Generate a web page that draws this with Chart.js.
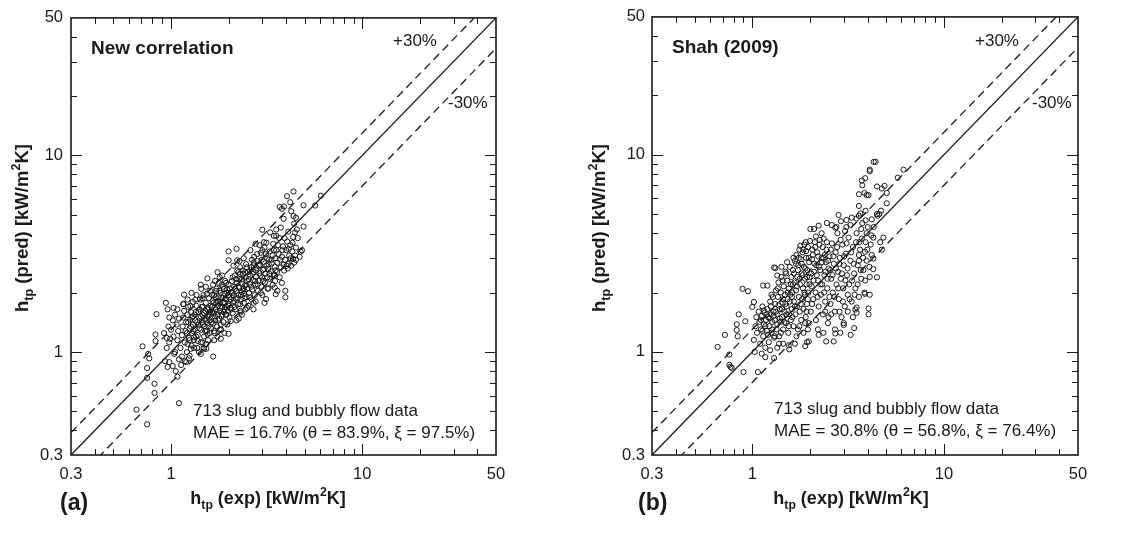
<!DOCTYPE html>
<html><head><meta charset="utf-8">
<script src="https://cdn.jsdelivr.net/npm/chart.js@4.4.1/dist/chart.umd.min.js"></script>
<style>
html,body{margin:0;padding:0;background:#fff;}
#wrap{position:relative;width:1137px;height:549px;overflow:hidden;background:#fff;}
canvas{position:absolute;top:0;}
</style></head><body>
<div id="wrap"><canvas id="ca" width="570" height="549" style="left:0"></canvas><canvas id="cb" width="567" height="549" style="left:570px"></canvas></div>
<script>
// ---- axis / tick definitions ----
const axisRange = [0.3, 50];
const tickValues = [0.3, 1, 10, 50];
const tickLabels = ["0.3", "1", "10", "50"];
const majorTickValues = [1, 10];
const minorTickValues = [0.4,0.5,0.6,0.7,0.8,0.9,2,3,4,5,6,7,8,9,20,30,40];
const refLineFactors = [1, 1.3, 0.7];

// ---- panel (a): New correlation  [h_tp(exp), h_tp(pred)] ----
const newCorrelationPoints = [
[0.66,0.51],[0.75,0.43],[1.10,0.55],[0.82,0.62],[0.82,0.69],[0.75,0.74],[0.75,0.83],[0.71,1.07],[0.77,0.93],[0.76,0.98],
[0.83,1.23],[0.83,1.14],[0.84,1.56],[0.94,1.78],[0.96,1.65],[1.03,1.68],[1.28,2.0],[1.17,1.96],[1.16,1.76],[0.99,1.17],
[0.96,0.84],[0.98,0.89],[1.04,0.98],[1.08,0.75],[1.13,0.86],[1.2,0.89],[1.25,0.96],[1.27,1.04],[1.43,0.98],[1.49,1.04],
[1.53,1.04],[1.66,0.95],[1.82,1.17],[2.0,1.24],[2.26,1.48],[3.14,1.86],[3.53,1.97],[3.96,1.9],[3.96,2.05],[3.48,2.13],
[4.07,2.66],[4.34,2.98],[4.45,3.1],[4.5,2.95],[4.4,2.85],[4.84,3.29],[4.75,3.25],[4.93,4.35],[5.67,5.56],[6.07,6.24],
[4.93,5.58],[4.37,6.56],[4.04,6.2],[4.2,5.78],[3.7,5.47],[3.8,5.35],[3.9,5.5],[4.37,4.92],[4.5,4.82],[4.45,4.06],
[3.88,4.76],[3.55,4.2],[3.0,4.19],[3.3,4.06],[3.45,3.9],[2.77,3.55],[3.06,3.62],[2.0,3.25],[2.2,3.35],[2.0,2.93],
[2.22,2.93],[1.55,2.37],[1.43,2.2],[1.75,2.55],[2.7,2.76],[3.48,2.47],[3.88,2.78],[3.23,2.11],[2.77,1.81],[3.08,1.78],
[2.7,1.78],[2.5,1.68],[2.31,1.59],[2.05,1.44],[1.82,1.38],[1.68,1.28],[1.55,1.23],[1.38,1.14],[1.32,1.19],[1.22,1.1],
[0.92,1.25],[0.95,1.05],[0.97,1.35],[0.98,1.12],[1.0,1.3],[1.02,1.45],[1.03,1.2],[1.05,1.0],[1.05,1.55],[1.07,1.38],
[1.08,1.15],[1.09,1.28],[1.1,1.48],[1.1,0.92],[1.02,0.85],[0.93,0.9],[1.06,0.8],[1.08,1.65],[0.98,1.5],[0.95,1.18],
[1.12,1.05],[1.14,1.22],[1.15,1.35],[1.16,1.5],[1.17,1.62],[1.18,1.12],[1.19,1.28],[1.2,1.42],[1.21,1.0],[1.22,1.55],
[1.23,1.7],[1.24,1.18],[1.25,1.32],[1.26,1.46],[1.27,1.6],[1.28,1.08],[1.29,1.25],[1.3,1.38],[1.3,1.52],[1.3,1.8],
[1.14,0.95],[1.18,0.9],[1.24,0.93],[1.22,1.85],[1.16,1.75],
[1.32,1.15],[1.33,1.3],[1.34,1.45],[1.35,1.6],[1.36,1.72],[1.37,1.05],[1.38,1.22],[1.39,1.38],[1.4,1.5],[1.41,1.65],
[1.42,1.85],[1.43,1.12],[1.44,1.3],[1.45,1.42],[1.46,1.55],[1.47,1.7],[1.48,1.95],[1.49,1.2],[1.5,1.35],[1.5,1.48],
[1.51,1.62],[1.52,1.78],[1.53,1.1],[1.54,1.28],[1.55,1.4],[1.56,1.52],[1.57,1.68],[1.58,1.88],[1.59,1.25],[1.6,1.45],
[1.6,1.6],[1.6,2.05],[1.36,1.95],[1.44,2.1],[1.52,2.15],[1.4,1.0],[1.48,1.05],[1.56,1.15],
[1.62,1.32],[1.63,1.5],[1.64,1.7],[1.65,1.82],[1.66,1.4],[1.67,1.58],[1.68,1.95],[1.69,1.25],[1.7,1.45],[1.71,1.65],
[1.72,1.78],[1.73,2.1],[1.74,1.35],[1.75,1.55],[1.76,1.72],[1.77,1.9],[1.78,2.25],[1.79,1.48],[1.8,1.62],[1.81,1.8],
[1.82,2.0],[1.83,1.3],[1.84,1.52],[1.85,1.7],[1.86,1.88],[1.87,2.15],[1.88,1.42],[1.89,1.6],[1.9,1.78],[1.91,1.98],
[1.92,2.3],[1.93,1.55],[1.94,1.7],[1.95,1.85],[1.96,2.08],[1.97,1.38],[1.98,1.62],[1.99,1.95],[2.0,2.2],[2.0,1.75],
[1.7,2.3],[1.8,2.4],[1.66,2.2],[1.75,1.2],[1.9,1.25],[1.85,2.45],
[2.02,1.5],[2.04,1.68],[2.05,1.85],[2.06,2.02],[2.08,2.3],[2.1,1.58],[2.11,1.78],[2.12,1.95],[2.14,2.15],[2.15,2.45],
[2.17,1.65],[2.18,1.88],[2.2,2.05],[2.21,2.25],[2.22,2.6],[2.24,1.75],[2.25,1.95],[2.27,2.12],[2.28,2.35],[2.3,2.7],
[2.31,1.62],[2.33,1.85],[2.34,2.02],[2.36,2.22],[2.38,2.5],[2.4,1.78],[2.41,1.98],[2.43,2.18],[2.45,2.4],[2.47,2.8],
[2.48,1.9],[2.5,2.1],[2.5,2.3],[2.2,1.45],[2.35,1.55],[2.45,1.65],[2.12,2.75],[2.28,2.9],[2.4,3.0],
[2.52,2.55],[2.54,1.72],[2.56,2.0],[2.58,2.22],[2.6,2.45],[2.62,2.7],[2.64,1.85],[2.66,2.08],[2.68,2.32],[2.7,2.55],
[2.72,3.05],[2.74,1.95],[2.76,2.2],[2.78,2.42],[2.8,2.68],[2.83,2.9],[2.85,2.05],[2.87,2.3],[2.9,2.52],[2.92,2.78],
[2.95,3.2],[2.97,2.15],[3.0,2.4],[3.02,2.62],[3.05,2.88],[3.08,3.4],[3.1,2.25],[3.12,2.5],[3.15,2.75],[3.18,3.0],
[3.2,2.1],[2.6,3.3],[2.9,3.5],[2.7,1.65],[3.0,1.95],[3.15,3.6],
[3.22,2.65],[3.25,2.95],[3.28,3.25],[3.3,2.35],[3.33,2.58],[3.36,2.82],[3.4,3.1],[3.42,3.55],[3.45,2.45],[3.48,2.72],
[3.5,3.0],[3.55,3.3],[3.58,2.55],[3.6,2.85],[3.65,3.15],[3.68,3.8],[3.7,2.4],[3.75,2.7],[3.8,3.05],[3.85,3.45],
[3.9,2.6],[3.95,2.95],[4.0,3.3],[3.4,2.2],[3.6,2.05],[3.55,3.9],[3.75,4.3],
[4.05,3.65],[4.1,2.8],[4.15,3.1],[4.2,3.5],[4.25,2.75],[4.3,3.25],[4.35,3.85],[4.4,4.5],[4.5,3.4],[4.6,3.8],
[4.7,3.05],[4.1,4.1],[4.25,5.2],[4.55,4.2],
[1.21,1.25],[1.23,1.42],[1.25,1.15],[1.27,1.35],[1.29,1.5],[1.31,1.28],[1.33,1.55],[1.35,1.2],[1.37,1.42],[1.39,1.6],
[1.41,1.32],[1.43,1.52],[1.45,1.7],[1.47,1.38],[1.49,1.58],[1.51,1.28],[1.53,1.45],[1.55,1.65],[1.57,1.35],[1.59,1.55],
[1.26,1.72],[1.34,1.85],[1.46,1.88],[1.54,1.98],[1.32,1.05],[1.46,1.12],
[1.61,1.72],[1.63,1.42],[1.65,1.6],[1.67,1.78],[1.69,1.52],[1.71,1.9],[1.73,1.6],[1.75,1.82],[1.77,1.45],[1.79,2.05],
[1.81,1.68],[1.83,1.9],[1.85,1.55],[1.87,1.78],[1.89,2.1],[1.91,1.65],[1.93,1.88],[1.95,1.55],[1.97,2.0],[1.99,1.72],
[1.64,1.95],[1.72,2.05],[1.84,2.2],[1.94,2.25],[1.68,1.15],[1.8,1.3],
[2.01,1.9],[2.03,2.1],[2.07,1.65],[2.09,2.0],[2.13,1.82],[2.16,2.1],[2.19,2.35],[2.23,1.88],[2.26,2.15],[2.29,2.5],
[2.32,1.95],[2.35,2.35],[2.37,2.6],[2.39,2.1],[2.42,1.88],[2.44,2.55],[2.46,2.2],[2.49,2.7],[2.1,2.4],[2.25,2.55],
[2.15,1.7],[2.3,1.75],[2.42,2.05],
[2.55,2.35],[2.59,2.6],[2.63,2.15],[2.67,2.5],[2.71,2.85],[2.75,2.3],[2.79,2.6],[2.84,2.2],[2.88,2.75],[2.93,2.45],
[2.98,2.95],[3.03,2.3],[3.07,2.65],[3.13,3.15],[3.19,2.4],[3.24,2.8],[2.65,2.95],[2.82,3.15],[3.0,3.3],[2.58,1.9],
[2.95,2.0],[3.27,2.5],
[3.35,2.95],[3.45,3.3],[3.52,2.6],[3.62,3.5],[3.72,2.95],[3.82,3.3],[3.92,3.8],[4.02,2.75],[4.12,3.35],[4.22,3.0],
[4.32,3.6],[3.5,2.3],[3.8,2.25]
];

// ---- panel (b): Shah (2009)  [h_tp(exp), h_tp(pred)] ----
const shahPoints = [
[0.66,1.06],[0.72,1.22],[0.76,0.97],[0.76,0.86],[0.78,0.83],[0.77,0.84],[0.83,1.38],[0.83,1.29],[0.84,1.2],[0.9,0.79],
[0.89,2.09],[0.95,2.03],[0.85,1.55],[0.92,1.43],[1.02,1.79],[1.0,1.69],[1.07,0.79],[1.17,0.94],[1.3,0.93],[1.14,2.17],
[1.2,2.17],[1.32,2.66],[1.35,2.44],[1.56,1.03],[1.67,1.1],[1.89,1.07],[1.93,1.12],[1.97,1.13],[1.89,1.4],[2.22,1.22],
[2.43,1.13],[2.66,1.13],[2.71,1.24],[2.88,1.25],[3.0,1.37],[3.26,1.22],[3.4,1.32],[3.5,1.58],[3.45,1.64],[3.5,1.68],
[4.04,1.66],[4.04,1.55],[3.87,1.97],[4.28,2.63],[4.47,2.39],[4.2,3.1],[4.28,2.98],[4.74,3.3],[4.83,3.8],[4.65,3.6],
[4.5,4.9],[4.6,5.0],[4.7,5.2],[4.47,5.0],[5.03,5.67],[4.74,6.74],[4.47,6.9],[4.9,6.95],[3.95,6.24],[4.04,6.24],
[3.85,6.4],[3.73,7.4],[3.88,7.6],[3.75,7.0],[4.1,8.25],[4.1,8.4],[4.4,9.2],[4.3,9.2],[5.74,7.65],[6.15,8.4],
[5.03,6.4],[3.6,6.3],[2.82,4.95],[3.66,5.04],[3.5,4.75],[3.6,4.9],[3.1,4.67],[2.71,4.27],[2.22,4.37],[2.01,4.2],
[1.3,2.68],[3.9,4.65],[3.73,3.76],[3.87,3.22],[3.6,3.1],[3.6,2.9],[4.28,3.8],
[1.02,1.15],[1.04,1.35],[1.05,1.5],[1.06,1.25],[1.08,1.6],[1.09,1.42],[1.1,1.1],[1.11,1.3],[1.12,1.52],[1.13,1.7],
[1.14,1.2],[1.15,1.38],[1.16,1.58],[1.17,1.05],[1.18,1.45],[1.19,1.28],[1.2,1.65],[1.21,1.5],[1.22,1.12],[1.23,1.35],
[1.24,1.8],[1.25,1.55],[1.26,1.25],[1.27,1.42],[1.28,1.9],[1.29,1.6],[1.3,1.18],[1.03,1.0],[1.12,0.98],[1.24,1.02],
[1.31,1.45],[1.32,1.75],[1.33,2.05],[1.34,1.3],[1.35,1.55],[1.36,1.9],[1.37,2.25],[1.38,1.2],[1.39,1.65],[1.4,1.42],
[1.41,2.0],[1.42,2.4],[1.43,1.5],[1.44,1.78],[1.45,1.3],[1.46,2.15],[1.47,1.6],[1.48,1.95],[1.49,2.55],[1.5,1.4],
[1.51,1.7],[1.52,2.3],[1.53,1.85],[1.54,1.25],[1.55,2.1],[1.56,1.55],[1.57,2.7],[1.58,1.95],[1.59,1.45],[1.6,2.4],
[1.35,1.05],[1.45,1.1],[1.55,1.08],[1.42,2.7],[1.52,2.85],
[1.61,1.65],[1.62,2.0],[1.63,2.6],[1.64,1.35],[1.65,1.8],[1.66,2.25],[1.67,2.9],[1.68,1.55],[1.69,2.05],[1.7,3.1],
[1.71,1.7],[1.72,2.4],[1.73,1.3],[1.74,2.75],[1.75,1.9],[1.76,3.3],[1.77,1.6],[1.78,2.2],[1.79,2.95],[1.8,1.45],
[1.81,2.5],[1.82,1.85],[1.83,3.2],[1.84,2.1],[1.85,1.65],[1.86,2.7],[1.87,3.5],[1.88,1.95],[1.89,2.35],[1.9,1.5],
[1.91,3.0],[1.92,2.2],[1.93,1.75],[1.94,2.6],[1.95,3.4],[1.96,2.0],[1.97,1.4],[1.98,2.85],[1.99,2.4],[2.0,3.65],
[1.7,1.2],[1.85,1.25],[1.95,1.3],
[2.02,1.6],[2.04,2.15],[2.05,2.95],[2.06,3.3],[2.08,1.85],[2.1,2.55],[2.12,3.6],[2.14,2.0],[2.15,1.45],[2.16,2.75],
[2.18,3.2],[2.2,2.3],[2.22,1.7],[2.24,3.5],[2.26,2.6],[2.28,1.95],[2.3,3.0],[2.32,2.2],[2.34,1.55],[2.36,3.75],
[2.38,2.45],[2.4,1.8],[2.42,2.85],[2.44,3.3],[2.46,2.1],[2.48,1.4],[2.5,2.65],[2.1,4.2],[2.3,4.0],[2.45,4.5],
[2.2,1.3],[2.35,1.25],[2.5,1.5],
[2.53,3.05],[2.56,1.75],[2.58,2.35],[2.6,3.55],[2.63,2.0],[2.66,2.8],[2.7,1.6],[2.72,3.2],[2.75,2.2],[2.78,4.0],
[2.8,2.55],[2.83,1.85],[2.86,3.0],[2.9,2.35],[2.92,1.5],[2.95,3.5],[2.98,2.1],[3.0,2.75],[3.04,1.7],[3.08,3.15],
[3.12,2.45],[3.15,1.95],[3.18,3.8],[3.2,2.2],[2.6,4.4],[2.9,4.6],[3.1,4.3],[2.7,1.3],[3.0,1.4],
[3.25,2.9],[3.3,1.8],[3.35,3.4],[3.4,2.5],[3.45,2.1],[3.5,4.0],[3.55,2.75],[3.6,1.9],[3.65,3.3],[3.7,2.35],
[3.75,4.5],[3.8,2.6],[3.85,2.0],[3.9,3.6],[3.95,2.9],[4.0,4.3],[4.1,2.4],[4.15,3.5],[3.3,4.8],[3.6,5.5],
[3.9,5.2],[4.2,4.7],
[1.11,1.45],[1.13,1.28],[1.15,1.62],[1.17,1.35],[1.19,1.55],[1.21,1.22],[1.23,1.48],[1.25,1.7],[1.27,1.3],[1.29,1.52],
[1.31,1.2],[1.33,1.6],[1.35,1.38],[1.37,1.72],[1.39,1.48],[1.41,1.25],[1.43,1.65],[1.45,1.85],[1.47,1.42],[1.49,1.75],
[1.51,1.55],[1.53,2.0],[1.55,1.35],[1.57,1.8],[1.59,2.2],[1.36,2.1],[1.44,2.3],[1.5,2.5],[1.38,1.1],[1.26,1.95],
[1.61,1.9],[1.63,2.2],[1.65,2.5],[1.67,1.7],[1.69,2.8],[1.71,2.15],[1.73,2.6],[1.75,3.0],[1.77,2.35],[1.79,1.75],
[1.81,2.8],[1.83,2.45],[1.85,3.3],[1.87,2.0],[1.89,2.65],[1.91,3.25],[1.93,2.4],[1.95,1.85],[1.97,3.0],[1.99,2.2],
[1.64,3.0],[1.78,3.45],[1.9,3.6],[1.62,1.5],[1.76,1.35],[1.92,1.6],
[2.03,2.5],[2.07,3.1],[2.09,2.3],[2.11,2.8],[2.13,3.4],[2.17,2.45],[2.19,1.9],[2.21,3.05],[2.23,2.7],[2.25,3.7],
[2.27,2.2],[2.31,2.85],[2.33,3.4],[2.37,2.0],[2.39,3.1],[2.41,2.55],[2.45,3.6],[2.47,2.35],[2.49,2.9],[2.53,1.9],
[2.55,2.6],[2.57,3.3],[2.15,3.85],[2.35,3.0],[2.05,1.75],[2.4,1.6],[2.58,1.55],
[2.62,2.45],[2.65,3.05],[2.68,1.9],[2.73,2.65],[2.77,3.4],[2.81,2.1],[2.85,2.8],[2.89,3.7],[2.93,2.5],[2.97,1.8],
[3.02,3.05],[3.06,2.3],[3.1,3.55],[3.14,2.65],[3.22,1.85],[3.28,3.2],[3.32,2.3],[3.38,2.8],[3.42,1.95],[3.48,3.6],
[2.75,4.3],[3.05,4.1],[3.25,4.4],[2.85,1.6],[3.15,1.6],[3.35,1.5],
[3.55,2.2],[3.62,3.6],[3.68,2.6],[3.78,3.0],[3.88,2.3],[3.98,3.3],[4.08,2.7],[4.18,3.9],[3.7,4.2],[3.95,4.0],
[4.1,1.95],[4.3,4.3]
];

// ---- panel text ----
const panelTitles = ["New correlation", "Shah (2009)"];
const panelLetters = ["(a)", "(b)"];
const dataCountText = "713 slug and bubbly flow data";
const maeTexts = ["MAE = 16.7% (\u03B8 = 83.9%, \u03BE = 97.5%)", "MAE = 30.8% (\u03B8 = 56.8%, \u03BE = 76.4%)"];
const bandLabels = ["+30%", "-30%"];

const INK = '#1a1a1a';
const FONT = '"Liberation Sans", Arial, Helvetica, sans-serif';

function drawRich(ctx, segs, x, y, size, bold, align, rot) {
  const w = bold ? 'bold ' : '';
  const parts = segs.map(s => {
    const sz = s[1] === 0 ? size : size * 0.68;
    ctx.font = w + sz + 'px ' + FONT;
    return {t: s[0], sz, dy: s[1] < 0 ? size * 0.28 : (s[1] > 0 ? -size * 0.42 : 0), wd: ctx.measureText(s[0]).width};
  });
  const total = parts.reduce((a, p) => a + p.wd, 0);
  ctx.save();
  ctx.translate(x, y);
  if (rot) ctx.rotate(rot);
  let cx = align === 'center' ? -total / 2 : (align === 'right' ? -total : 0);
  ctx.fillStyle = INK;
  ctx.textBaseline = 'alphabetic';
  ctx.textAlign = 'left';
  parts.forEach(p => {
    ctx.font = w + p.sz + 'px ' + FONT;
    ctx.fillText(p.t, cx, p.dy);
    cx += p.wd;
  });
  ctx.restore();
}

const framePlugin = {
  id: 'frameTicks',
  afterDatasetsDraw(chart) {
    const {ctx, chartArea: a, scales: {x, y}} = chart;
    ctx.save();
    ctx.strokeStyle = INK;
    ctx.lineWidth = 1;
    const tick = (vals, len) => {
      vals.forEach(v => {
        const px = Math.round(x.getPixelForValue(v)) + 0.5;
        const py = Math.round(y.getPixelForValue(v)) + 0.5;
        ctx.beginPath();
        ctx.moveTo(px, a.bottom); ctx.lineTo(px, a.bottom - len);
        ctx.moveTo(px, a.top); ctx.lineTo(px, a.top + len);
        ctx.moveTo(a.left, py); ctx.lineTo(a.left + len, py);
        ctx.moveTo(a.right, py); ctx.lineTo(a.right - len, py);
        ctx.stroke();
      });
    };
    tick(minorTickValues, 6);
    tick(majorTickValues, 11);
    ctx.lineWidth = 1.6;
    ctx.strokeRect(a.left, a.top, a.right - a.left, a.bottom - a.top);
    ctx.restore();
  },
  afterDraw(chart) {
    const o = chart.options.plugins.frameTicks;
    const ctx = chart.ctx;
    o.notes.forEach(n => drawRich(ctx, n.segs, n.x, n.y, n.size, n.bold, n.align, n.rot));
  }
};

function makePanel(id, pts, idx, L) {
  const lineSets = refLineFactors.map((f, i) => ({
    type: 'line',
    data: axisRange.map(v => ({x: v, y: v * f})),
    borderColor: INK,
    borderWidth: 1.3,
    borderDash: i === 0 ? [] : [8, 5],
    pointRadius: 0,
    fill: false,
    tension: 0
  }));
  const xt = [['h',0],['tp',-1],[' (exp) [kW/m',0],['2',1],['K]',0]];
  const yt = [['h',0],['tp',-1],[' (pred) [kW/m',0],['2',1],['K]',0]];
  new Chart(document.getElementById(id), {
    type: 'scatter',
    data: {
      datasets: [{
        type: 'scatter',
        data: pts.map(p => ({x: p[0], y: p[1]})),
        pointRadius: 2.6,
        pointBorderWidth: 1,
        pointBorderColor: INK,
        pointBackgroundColor: 'rgba(255,255,255,0)',
        showLine: false
      }, ...lineSets]
    },
    options: {
      responsive: false,
      animation: false,
      devicePixelRatio: 1,
      layout: {padding: {left: 0, top: 12, right: L.padRight, bottom: 0}},
      plugins: {
        legend: {display: false},
        tooltip: {enabled: false},
        frameTicks: {notes: [
          {segs: [[panelTitles[idx],0]], x: L.titleX, y: L.titleY, size: 19, bold: true, align: 'left'},
          {segs: [[bandLabels[0],0]], x: L.plusX, y: 46, size: 17, bold: false, align: 'left'},
          {segs: [[bandLabels[1],0]], x: L.minusX, y: 108, size: 17, bold: false, align: 'left'},
          {segs: [[dataCountText,0]], x: L.noteX, y: L.noteY, size: 17, bold: false, align: 'left'},
          {segs: [[maeTexts[idx],0]], x: L.noteX, y: L.noteY + 22, size: 17, bold: false, align: 'left'},
          {segs: [[panelLetters[idx],0]], x: L.letterX, y: 510, size: 23, bold: true, align: 'left'},
          {segs: xt, x: L.xTitleX, y: 504, size: 18, bold: true, align: 'center'},
          {segs: yt, x: L.yTitleX, y: 228, size: 18.5, bold: true, align: 'center', rot: -Math.PI / 2}
        ]}
      },
      scales: {
        x: {
          type: 'logarithmic', min: axisRange[0], max: axisRange[1], position: 'bottom',
          grid: {display: false, drawTicks: false}, border: {display: false},
          ticks: {color: INK, font: {family: FONT, size: 16.5}, padding: 10, autoSkip: false, maxRotation: 0,
                  callback: v => tickLabels[tickValues.indexOf(v)]},
          afterBuildTicks: s => { s.ticks = tickValues.map(v => ({value: v})); },
          afterFit: s => { s.height = 94; }
        },
        y: {
          type: 'logarithmic', min: axisRange[0], max: axisRange[1], position: 'left',
          grid: {display: false, drawTicks: false}, border: {display: false},
          ticks: {color: INK, font: {family: FONT, size: 16.5}, padding: L.yPad, autoSkip: false,
                  callback: v => tickLabels[tickValues.indexOf(v)]},
          afterBuildTicks: s => { s.ticks = tickValues.map(v => ({value: v})); },
          afterFit: s => { s.width = L.axisW; }
        }
      }
    },
    plugins: [framePlugin]
  });
}

makePanel('ca', newCorrelationPoints, 0, {
  axisW: 71, padRight: 74, yPad: 8, titleX: 91, titleY: 54, plusX: 393, minusX: 448,
  noteX: 193, noteY: 416, letterX: 60, xTitleX: 268, yTitleX: 28
});
makePanel('cb', shahPoints, 1, {
  axisW: 82, padRight: 59, yPad: 7, titleX: 102, titleY: 53, plusX: 405, minusX: 462,
  noteX: 204, noteY: 414, letterX: 68, xTitleX: 281, yTitleX: 35
});
</script>
</body></html>
